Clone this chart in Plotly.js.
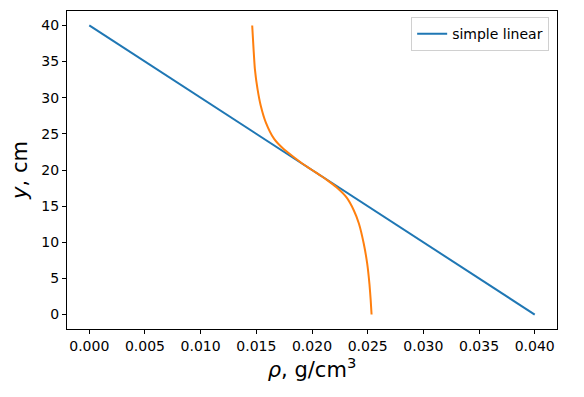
<!DOCTYPE html>
<html>
<head>
<meta charset="utf-8">
<script src="https://cdn.plot.ly/plotly-3.0.1.min.js"></script>
<style>html,body{margin:0;padding:0;background:#fff;}#chart{width:584px;height:397px;}</style>
</head>
<body>
<div id="chart"></div>
<script>
// simple linear profile
const linearRho = [0.000, 0.040];
const linearY = [40, 0];

// second (orange) profile
const curveY = [0, 2, 4.2, 7.0, 9.8, 12.6, 14.4, 16.2, 17.6, 18.5, 19.2, 20.0, 20.8, 21.8, 22.9, 24.3, 26.6, 28.9, 31.2, 34.0, 36.8, 40];
const curveRho = [0.02535, 0.02527, 0.02516, 0.02496, 0.02465, 0.02421, 0.02376, 0.02310, 0.02220, 0.02145, 0.02080, 0.0200,
                  0.01922, 0.01835, 0.01745, 0.01660, 0.01585, 0.01540, 0.01511, 0.01487, 0.01475, 0.01463];

const xTicks = [0, 0.005, 0.010, 0.015, 0.020, 0.025, 0.030, 0.035, 0.040];
const yTicks = [0, 5, 10, 15, 20, 25, 30, 35, 40];

const font = 'DejaVu Sans, sans-serif';

const traces = [
  {x: linearRho, y: linearY, mode: 'lines', name: 'simple linear',
   line: {color: '#1f77b4', width: 2}},
  {x: curveRho, y: curveY, mode: 'lines', name: 'profile', showlegend: false,
   line: {color: '#ff7f0e', width: 2, shape: 'spline', smoothing: 0.6}}
];

const axisCommon = {
  showgrid: false, zeroline: false, showline: true, mirror: true,
  linecolor: '#000', linewidth: 1, ticks: 'outside', ticklen: 4, tickwidth: 1, tickcolor: '#000',
  tickfont: {family: font, size: 14, color: '#000'}
};

const layout = {
  width: 584, height: 397,
  margin: {l: 67, r: 27, t: 11, b: 68},
  paper_bgcolor: '#fff', plot_bgcolor: '#fff',
  font: {family: font},
  xaxis: Object.assign({}, axisCommon, {
    range: [-0.002, 0.042], tickvals: xTicks, ticktext: xTicks.map(v => v.toFixed(3)),
    title: {text: '<i>ρ</i>, g/cm<sup>3</sup>', font: {family: font, size: 21, color: '#000'}, standoff: 8}
  }),
  yaxis: Object.assign({}, axisCommon, {
    range: [-2, 42], tickvals: yTicks, ticktext: yTicks.map(String),
    title: {text: '<i>y</i>, cm', font: {family: font, size: 21, color: '#000'}, standoff: 8}
  }),
  showlegend: true,
  legend: {x: 0.984, y: 0.981, xanchor: 'right', yanchor: 'top',
    bgcolor: 'rgba(255,255,255,0.8)', bordercolor: '#d0d0d0', borderwidth: 1,
    font: {family: font, size: 14, color: '#000'}}
};

Plotly.newPlot('chart', traces, layout, {displayModeBar: false, staticPlot: true});
</script>
</body>
</html>
